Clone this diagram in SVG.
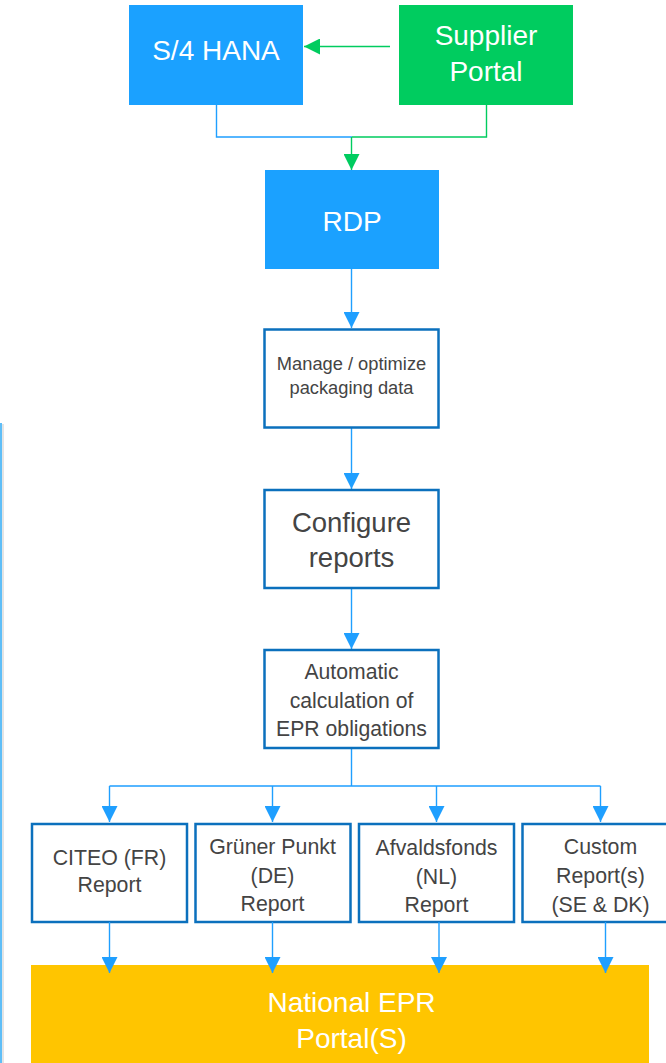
<svg xmlns="http://www.w3.org/2000/svg" width="666" height="1063" viewBox="0 0 666 1063">
<defs>
<style>
.solidB{fill:#1ba1ff}
.solidG{fill:#00cc5f}
.solidY{fill:#ffc500}
.box{fill:#fff;stroke:#0b70bd;stroke-width:2.5}
.wt{fill:#fff;font-family:"Liberation Sans",Arial,sans-serif;font-size:28px;text-anchor:middle}
.gt{fill:#444;font-family:"Liberation Sans",Arial,sans-serif;text-anchor:middle}
.cb{fill:none;stroke:#1f9fff;stroke-width:1.4}
.cg{fill:none;stroke:#00cc5f;stroke-width:1.4}
</style>
<marker id="ab" markerUnits="userSpaceOnUse" markerWidth="16" markerHeight="16" viewBox="0 0 16 16" refX="16" refY="8" orient="auto">
<path d="M0,0 L16,8 L0,16 Z" fill="#1f9fff"/>
</marker>
<marker id="ag" markerUnits="userSpaceOnUse" markerWidth="16" markerHeight="16" viewBox="0 0 16 16" refX="16" refY="8" orient="auto">
<path d="M0,0 L16,8 L0,16 Z" fill="#00cc5f"/>
</marker>
</defs>
<rect width="666" height="1063" fill="#fff"/>
<line x1="3" y1="424" x2="3" y2="1063" stroke="#e4e4e4" stroke-width="2"/>
<line x1="1" y1="423" x2="1" y2="1063" stroke="#2aa8f5" stroke-width="1.5"/>

<g id="connectors">
<path class="cg" d="M390,46.5 L304,46.5" marker-end="url(#ag)"/>
<path class="cb" d="M216.5,105 V137 H352"/>
<path class="cg" d="M486.5,105 V137 H352"/>
<path class="cg" d="M351.5,137 V170" marker-end="url(#ag)"/>
<path class="cb" d="M351.5,269 V328" marker-end="url(#ab)"/>
<path class="cb" d="M351.5,428 V489" marker-end="url(#ab)"/>
<path class="cb" d="M351.5,589 V649" marker-end="url(#ab)"/>
<path class="cb" d="M351.5,749 V786 M109.5,786 H600.5"/>
<path class="cb" d="M109.5,786 V822" marker-end="url(#ab)"/>
<path class="cb" d="M272.5,786 V822" marker-end="url(#ab)"/>
<path class="cb" d="M436.5,786 V822" marker-end="url(#ab)"/>
<path class="cb" d="M600.5,786 V822" marker-end="url(#ab)"/>
</g>

<g id="s4hana">
<rect class="solidB" x="129" y="5" width="174" height="100"/>
<text class="wt" x="216" y="60">S/4 HANA</text>
</g>
<g id="supplier">
<rect class="solidG" x="399" y="5" width="174" height="100"/>
<text class="wt" x="486" y="45">Supplier</text>
<text class="wt" x="486" y="81">Portal</text>
</g>
<g id="rdp">
<rect class="solidB" x="265" y="170" width="174" height="99"/>
<text class="wt" x="352" y="231">RDP</text>
</g>
<g id="manage">
<rect class="box" x="264.5" y="329.5" width="174" height="98"/>
<text class="gt" font-size="18.3" x="351.5" y="370">Manage / optimize</text>
<text class="gt" font-size="18.3" x="351.5" y="393.5">packaging data</text>
</g>
<g id="configure">
<rect class="box" x="264.5" y="490" width="174" height="98"/>
<text class="gt" font-size="27.5" x="351.5" y="531.5">Configure</text>
<text class="gt" font-size="27.5" x="351.5" y="567">reports</text>
</g>
<g id="automatic">
<rect class="box" x="264.5" y="650" width="174" height="98"/>
<text class="gt" font-size="21.2" x="351.5" y="679">Automatic</text>
<text class="gt" font-size="21.2" x="351.5" y="707.5">calculation of</text>
<text class="gt" font-size="21.2" x="351.5" y="735.5">EPR obligations</text>
</g>
<g id="citeo">
<rect class="box" x="32" y="824" width="155" height="98"/>
<text class="gt" font-size="21.3" x="109.5" y="865">CITEO (FR)</text>
<text class="gt" font-size="21.3" x="109.5" y="892">Report</text>
</g>
<g id="gruner">
<rect class="box" x="195.5" y="824" width="155" height="98"/>
<text class="gt" font-size="21.3" x="272.5" y="853.5">Grüner Punkt</text>
<text class="gt" font-size="21.3" x="272.5" y="882.5">(DE)</text>
<text class="gt" font-size="21.3" x="272.5" y="911">Report</text>
</g>
<g id="afvald">
<rect class="box" x="359" y="824" width="155" height="98"/>
<text class="gt" font-size="21.3" x="436.5" y="855">Afvaldsfonds</text>
<text class="gt" font-size="21.3" x="436.5" y="883.5">(NL)</text>
<text class="gt" font-size="21.3" x="436.5" y="912">Report</text>
</g>
<g id="custom">
<rect class="box" x="522.5" y="824" width="155" height="98"/>
<text class="gt" font-size="21.3" x="600.5" y="853.5">Custom</text>
<text class="gt" font-size="21.3" x="600.5" y="882.5">Report(s)</text>
<text class="gt" font-size="21.3" x="600.5" y="911.5">(SE &amp; DK)</text>
</g>
<g id="national">
<rect class="solidY" x="31" y="965" width="618" height="98"/>
<text class="wt" x="351.5" y="1012">National EPR</text>
<text class="wt" x="351.5" y="1048">Portal(S)</text>
</g>
<g id="connectors-out">
<path class="cb" d="M109.5,922 V973" marker-end="url(#ab)"/>
<path class="cb" d="M272.5,922 V973" marker-end="url(#ab)"/>
<path class="cb" d="M439,922 V973" marker-end="url(#ab)"/>
<path class="cb" d="M605.5,922 V973" marker-end="url(#ab)"/>
</g>
</svg>
